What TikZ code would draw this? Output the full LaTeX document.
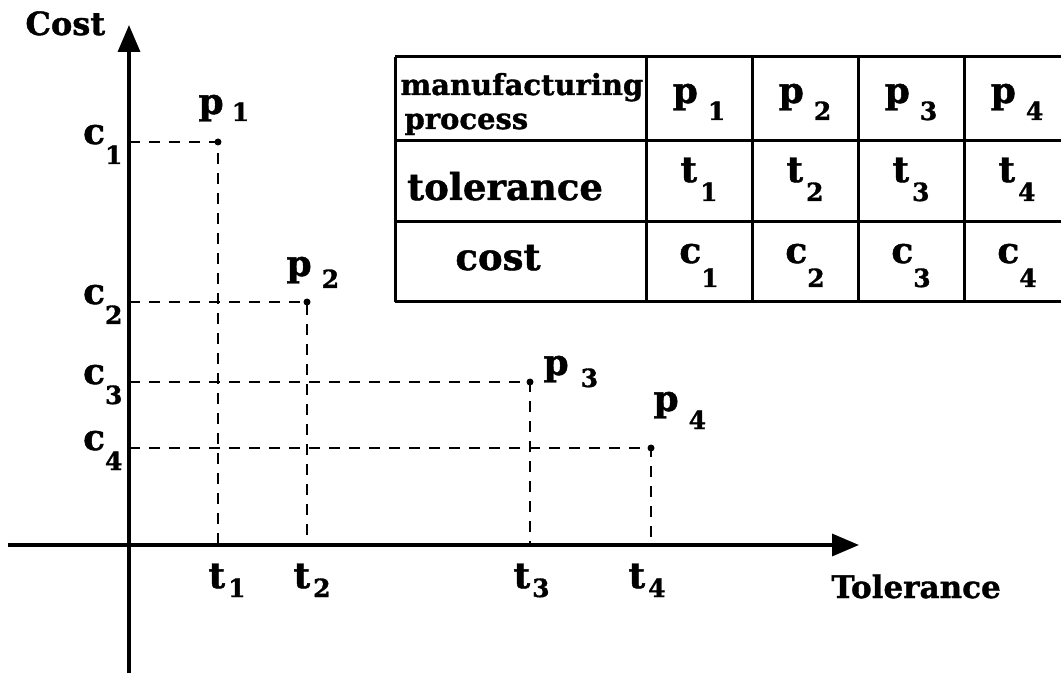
\documentclass[tikz,border=0pt]{standalone}
\usepackage{fontspec}
\setmainfont{DejaVu Serif}[BoldFeatures={FakeBold=1.2}]
\usetikzlibrary{arrows.meta}

% letter with a lowered index: {letter}{index}{drop}
\newcommand{\idx}[3]{#1\raisebox{-#3pt}{\fontsize{25}{25}\selectfont #2}}

\begin{document}
\begin{tikzpicture}[x=1pt, y=1pt,
  font=\bfseries\fontsize{36}{36}\selectfont,
  axis/.style={line width=3.4pt, -{Triangle[length=27pt,width=22pt]}},
  guide/.style={line width=2.8pt, dash pattern=on 11pt off 9pt},
  tabline/.style={line width=3pt}]
\useasboundingbox (-129,-128) rectangle (932,545);

% axes
\coordinate (ybot) at (0,-128);
\coordinate (ytop) at (0,520);
\coordinate (xleft) at (-121,0);
\coordinate (xright) at (730,0);
\draw[axis] (ybot) -- (ytop);
\draw[axis] (xleft) -- (xright);
\node[anchor=base west, font=\bfseries\fontsize{32}{32}\selectfont] (costlabel) at (-107,510) {Cost};
\node[anchor=base west, font=\bfseries\fontsize{31}{31}\selectfont] (tollabel) at (699,-53) {Tolerance};

% processes: cost/tolerance points
\foreach \n/\x/\y in {1/89/403, 2/178/243, 3/401/163, 4/522/97}{
  \coordinate (p\n) at (\x,\y);
  \draw[guide] (0,\y) -- (p\n) -- (\x,0);
  \fill (p\n) circle (3.5);
  \node[anchor=base east] (c\n) at (-3,\y-2) {\idx{c}{\n}{20}};
}
\node[anchor=base west] (lp1) at (66,431) {\idx{p\hspace{8pt}}{1}{7}};
\node[anchor=base west] (lp2) at (154,269) {\idx{p\hspace{10pt}}{2}{12}};
\node[anchor=base west] (lp3) at (411,170) {\idx{p\hspace{12pt}}{3}{12}};
\node[anchor=base west] (lp4) at (521,134) {\idx{p\hspace{10pt}}{4}{18}};
\node[anchor=base west] (t1) at (76,-43) {\idx{t\hspace{3pt}}{1}{9}};
\node[anchor=base west] (t2) at (161,-43) {\idx{t\hspace{3pt}}{2}{9}};
\node[anchor=base west] (t3) at (381,-43) {\idx{t\hspace{2pt}}{3}{9}};
\node[anchor=base west] (t4) at (496,-43) {\idx{t\hspace{3pt}}{4}{9}};

% table
\foreach \y in {488,404,323,243}
  \draw[tabline] (266,\y) -- (932,\y);
\foreach \x in {266,517,623,729,835}
  \draw[tabline] (\x,243) -- (\x,488);
\node[anchor=base west, font=\bfseries\fontsize{29}{29}\selectfont] (manuf) at (268,450) {manufacturing};
\node[anchor=base west, font=\bfseries\fontsize{29}{29}\selectfont] (proc) at (272,416) {process};
\node[anchor=base, font=\bfseries\fontsize{37}{37}\selectfont] (tolrow) at (376,345) {tolerance};
\node[anchor=base, font=\bfseries\fontsize{37}{37}\selectfont] (costrow) at (369,275) {cost};
\foreach \i/\x in {1/570, 2/676, 3/782, 4/888}{
  \node[anchor=base] (tp\i) at (\x,442) {\idx{p\hspace{10pt}}{\i}{17}};
  \node[anchor=base] (tt\i) at (\x,363) {\idx{t\hspace{3pt}}{\i}{19}};
  \node[anchor=base] (tc\i) at (\x,282) {\idx{c}{\i}{24}};
}
\end{tikzpicture}
\end{document}
